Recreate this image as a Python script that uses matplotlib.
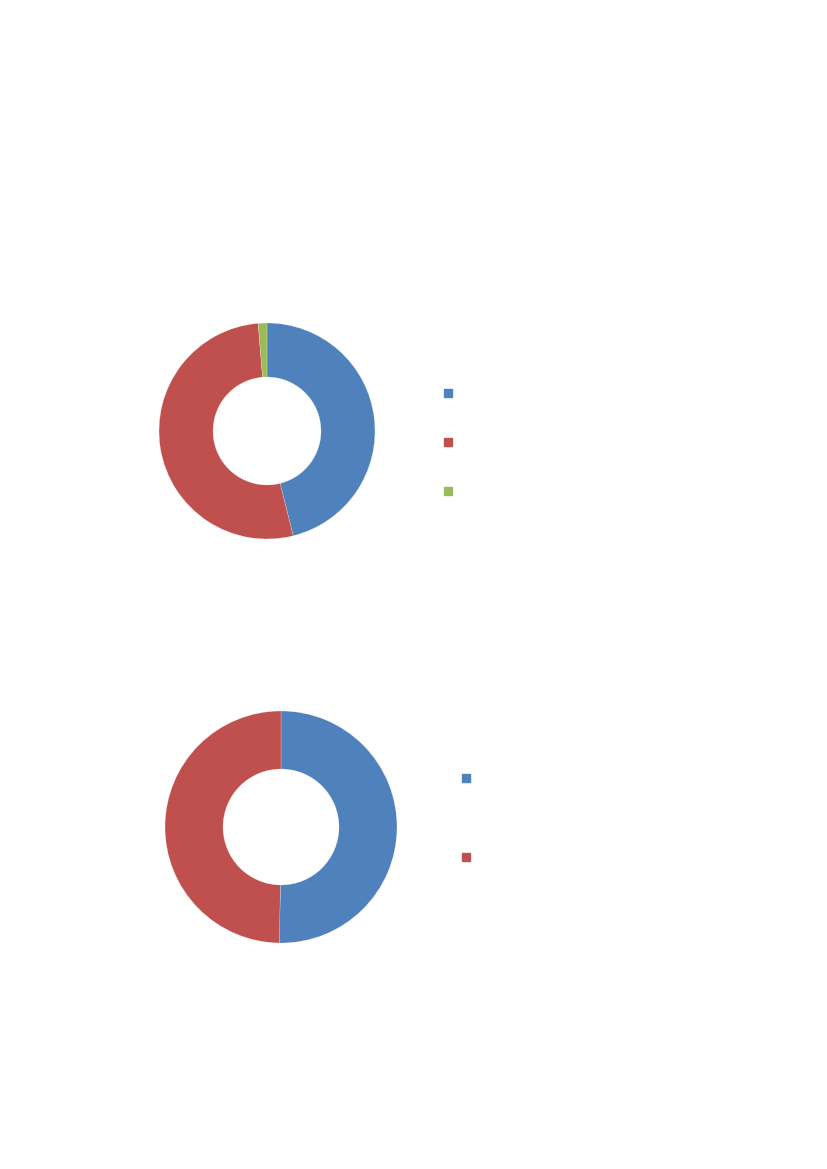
import matplotlib.pyplot as plt
from matplotlib.lines import Line2D

# ---- Datos ----
labels_top = [' ', ' ', ' ']
values_top = [46.1, 52.6, 1.3]
labels_bottom = [' ', ' ']
values_bottom = [50.2, 49.8]
colors = ['#4F81BD', '#C0504D', '#9BBB59']

W, H = 827, 1169
fig = plt.figure(figsize=(W/100, H/100), dpi=100)


def px_axes(cx, cy, r):
    # ejes cuadrados centrados en (cx, cy) en píxeles de la página
    return fig.add_axes([(cx - r)/W, 1 - (cy + r)/H, 2*r/W, 2*r/H])


def donut(ax, vals, cols):
    ax.pie(vals, colors=cols, startangle=90, counterclock=False,
           wedgeprops=dict(width=0.5, edgecolor='white', linewidth=0.15))
    ax.set_xlim(-1, 1)
    ax.set_ylim(-1, 1)
    ax.set_aspect('equal')


def legend(labels, cols, x, y, spacing):
    handles = [Line2D([], [], linestyle='none', marker='s', markersize=5.3,
                      markerfacecolor=c, markeredgecolor=c) for c in cols]
    fig.legend(handles, labels, loc='center left',
               bbox_to_anchor=(x/W, 1 - y/H), frameon=False, fontsize=10,
               borderpad=0, borderaxespad=0, handlelength=0.7,
               handletextpad=0.5, labelspacing=spacing)


# ---- Anillo superior ----
ax1 = px_axes(267, 431, 108)
donut(ax1, values_top, colors[:3])
legend(labels_top, colors[:3], 443, 443, 2.53)

# ---- Anillo inferior ----
ax2 = px_axes(281, 827, 116)
donut(ax2, values_bottom, colors[:2])
legend(labels_bottom, colors[:2], 461, 818.5, 4.7)

fig.savefig('out.png', dpi=100)
